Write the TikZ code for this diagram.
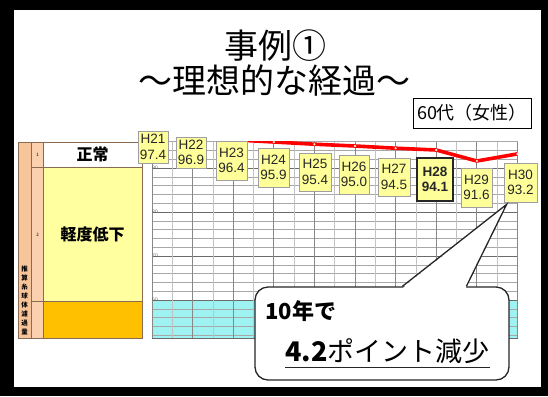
\documentclass[tikz,border=0pt]{standalone}
\usepackage{fontspec}
\setmainfont{Noto Sans CJK JP}
\newfontfamily\labfont{Liberation Sans}
\usetikzlibrary{calc}
\definecolor{lblyellow}{HTML}{FFFF99}
\definecolor{cellyellow}{HTML}{FFFFA0}
\definecolor{cellorange}{HTML}{FFC000}
\definecolor{peachA}{HTML}{F8C49A}
\definecolor{peachB}{HTML}{FAD0AE}
\definecolor{gridcyan}{HTML}{9EF2F2}
\definecolor{tblline}{HTML}{8A6A50}
\definecolor{gridminor}{HTML}{A8A8A8}
\definecolor{gridmajor}{HTML}{6A6A6A}
\tikzset{
  cell/.style={draw=tblline, line width=0.6bp, inner sep=0pt},
  lbl/.style={draw=gray!75, line width=0.8bp, fill=lblyellow, align=center, inner sep=0pt,
    font=\labfont\fontsize{13.5bp}{15.5bp}\selectfont, text=black!85},
  hminor/.style={gridminor, line width=0.6bp},
  hmajor/.style={gridmajor, line width=0.8bp},
  vminor/.style={gridminor!70, line width=0.5bp},
  vmajor/.style={gridmajor!80, line width=0.7bp},
  redline/.style={red, line width=3.6bp, line join=round},
  callline/.style={draw=black!85, line width=1.3bp},
  ticklbl/.style={font=\labfont\fontsize{5bp}{5bp}\selectfont, inner sep=0pt, text=black!60},
}
\begin{document}
\begin{tikzpicture}[x=1bp,y=-1bp]
\useasboundingbox (0,0) rectangle (548,396);
% frame
\fill[black] (0,0) rectangle (548,396);
\fill[white] (14,10) rectangle (541,387);
% titles
\node[font=\fontsize{34bp}{36bp}\selectfont, inner sep=0pt] (title1) at (275,46) {事例①};
\node[font=\fontsize{34bp}{36bp}\selectfont, inner sep=0pt] (title2) at (274,81) {～理想的な経過～};
\node[draw=black, line width=0.8bp, minimum width=118bp, minimum height=30bp, inner sep=0pt,
  font=\fontsize{18bp}{20bp}\selectfont] (age) at (472,113) {60代（女性）};
% left table
\node[cell, fill=peachA, minimum width=13bp, minimum height=196bp] (colA) at (24.5,240) {};
\node[cell, fill=peachB, minimum width=12bp, minimum height=25bp] (colB1) at (37,154.5) {};
\node[cell, fill=peachB, minimum width=12bp, minimum height=134bp] (colB2) at (37,234) {};
\node[cell, fill=peachB, minimum width=12bp, minimum height=37bp] (colB3) at (37,319.5) {};
\node[cell, fill=white, minimum width=99bp, minimum height=25bp,
  font=\bfseries\fontsize{16bp}{18bp}\selectfont] (normal) at (92.5,154.5) {正常};
\node[cell, fill=cellyellow, minimum width=99bp, minimum height=134bp,
  font=\bfseries\fontsize{16bp}{18bp}\selectfont] (mild) at (92.5,234) {軽度低下};
\node[cell, fill=cellorange, minimum width=99bp, minimum height=37bp] (low) at (92.5,319.5) {};
\node[font=\fontsize{4.5bp}{5bp}\selectfont, inner sep=0pt] (n1) at (37.5,155) {1};
\node[font=\fontsize{4.5bp}{5bp}\selectfont, inner sep=0pt] (n2) at (37.5,235) {2};
\node[font=\bfseries\fontsize{6.5bp}{9bp}\selectfont, align=center, inner sep=0pt] (vtext) at (24.5,300)
  {推\\算\\糸\\球\\体\\濾\\過\\量};
% chart area
\fill[gridcyan] (152,{168+(90-60)*4.4}) rectangle (517.5,338);
\foreach \v in {52,54,...,96}
  \draw[hminor] (152,{168+(90-\v)*4.4}) -- (517.5,{168+(90-\v)*4.4});
\foreach \v in {60,70,80,90}
  \draw[hmajor] (152,{168+(90-\v)*4.4}) -- (517.5,{168+(90-\v)*4.4});
\foreach \k in {1,3,...,17}
  \draw[vminor] ({152+\k*20.3},141) -- ({152+\k*20.3},338);
\foreach \k in {0,2,...,18}
  \draw[vmajor] ({152+\k*20.3},141) -- ({152+\k*20.3},338);
\draw[gridminor, line width=0.6bp] (152,141) -- (517.5,141);
\draw[gridmajor, line width=0.6bp] (152,338) -- (517.5,338);
\foreach \v in {60,70,80,90}
  \node[ticklbl] at (155,{168+(90-\v)*4.4}) {\v};
% red data line
\begin{scope}
\clip (152,141) rectangle (521,338);
\draw[redline] plot coordinates {(152,135.4) (192.6,137.6) (233.2,139.8) (273.8,142.0) (314.4,144.2)
  (355.0,146.0) (395.6,148.2) (436.2,150.0) (476.8,161.0) (517.4,153.9)};
\foreach \p in {(273.8,142.0),(314.4,144.2),(355.0,146.0),(395.6,148.2),(436.2,150.0),(476.8,161.0),(517.4,153.9)}
  \fill[white!85!red] \p circle (1.3);
\end{scope}
% value labels
\node[lbl, minimum width=30bp, minimum height=32bp] (h21) at (153,147) {H21\\97.4};
\node[lbl, minimum width=30bp, minimum height=31bp] (h22) at (191,152.5) {H22\\96.9};
\node[lbl, minimum width=31bp, minimum height=39bp] (h23) at (231.5,160.5) {H23\\96.4};
\node[lbl, minimum width=31bp, minimum height=39bp] (h24) at (273.5,167.5) {H24\\95.9};
\node[lbl, minimum width=32bp, minimum height=38bp] (h25) at (315,172) {H25\\95.4};
\node[lbl, minimum width=30bp, minimum height=39bp] (h26) at (354,174.5) {H26\\95.0};
\node[lbl, minimum width=32bp, minimum height=38bp] (h27) at (394,177) {H27\\94.5};
\node[lbl, draw=black!85, line width=1.5bp, minimum width=36bp, minimum height=43bp,
  font=\labfont\bfseries\fontsize{13.5bp}{15.5bp}\selectfont] (h28) at (435,179.5) {H28\\94.1};
\node[lbl, minimum width=31bp, minimum height=39bp] (h29) at (476.5,187.5) {H29\\91.6};
\node[lbl, minimum width=33bp, minimum height=39bp] (h30) at (520.5,182.5) {H30\\93.2};
% callout
\node[callline, rounded corners=13bp, fill=white, minimum width=254bp, minimum height=93bp, inner sep=0pt]
  (call) at (382,333.5) {};
\coordinate (tip) at ($(h30.south west)+(3,2)$);
\coordinate (pa) at ($(call.north west)+(148,0)$);
\coordinate (pb) at ($(call.north west)+(212,0)$);
\fill[white] ($(pa)+(0.6,1.6)$) -- (tip) -- ($(pb)+(-0.6,1.6)$) -- cycle;
\draw[callline, line join=miter] (pa) -- (tip) -- (pb);
\node[anchor=west, inner sep=0pt, font=\bfseries\fontsize{22bp}{24bp}\selectfont] (ten) at (265,311) {10年で};
\node[anchor=west, inner sep=0pt, font=\fontsize{27bp}{29bp}\selectfont] (pts) at (285,351) {\textbf{4.2}ポイント減少};
\draw[black!85, line width=1.2bp] ($(pts.base west)+(0,6)$) -- ($(pts.base east)+(0,6)$);
\end{tikzpicture}
\end{document}
